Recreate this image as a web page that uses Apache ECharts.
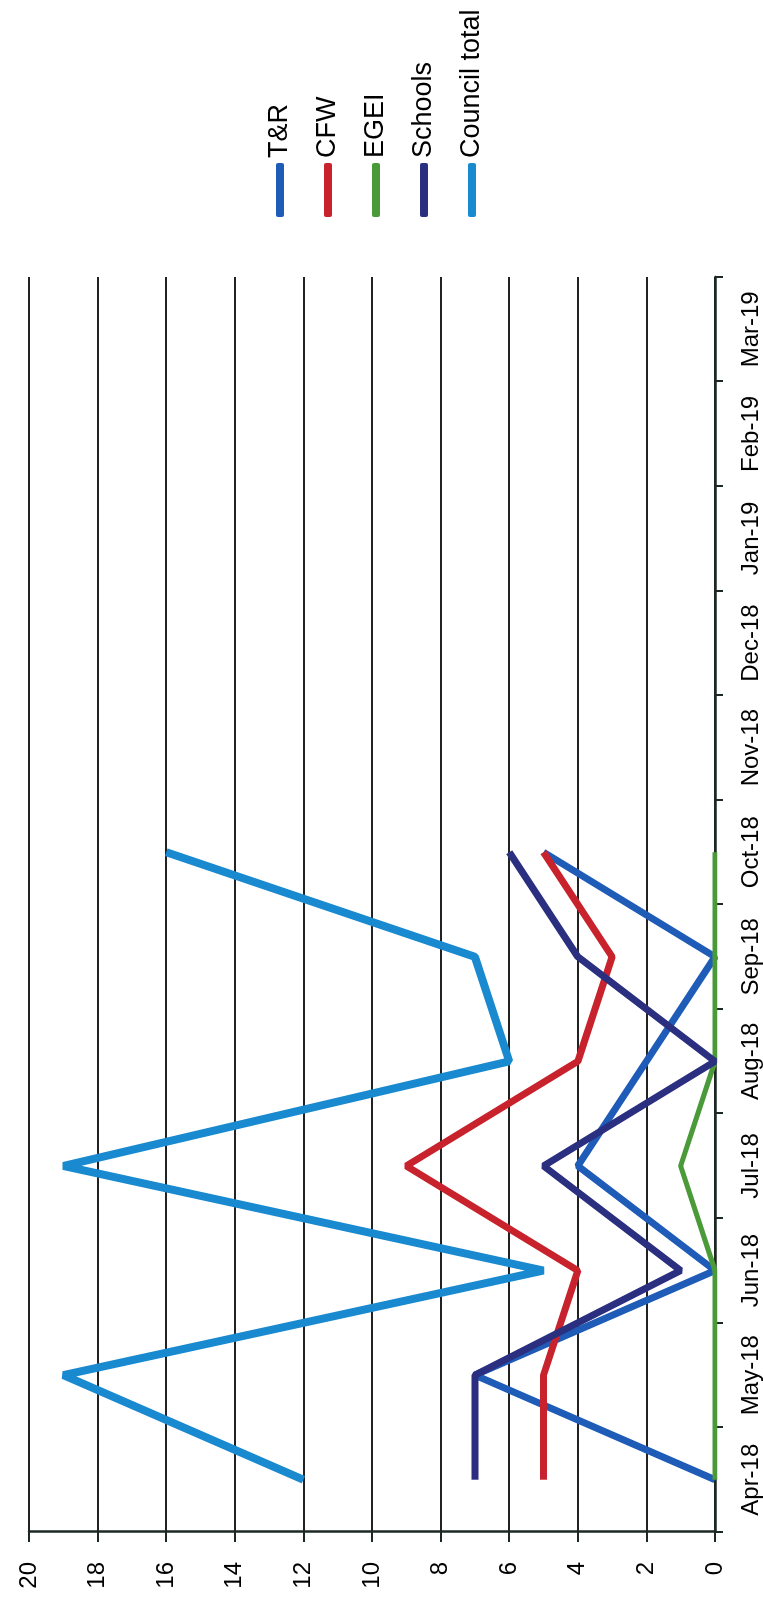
<!DOCTYPE html>
<html>
<head>
<meta charset="utf-8">
<script src="https://cdn.jsdelivr.net/npm/echarts@6/dist/echarts.min.js"></script>
<style>
  html, body { margin: 0; padding: 0; background: #fff; overflow: hidden; }
  #page { position: relative; width: 763px; height: 1601px; overflow: hidden; }
  /* the chart is drawn landscape and turned a quarter to the left, like the scan */
  #chart {
    position: absolute; left: 0; top: 0;
    width: 1601px; height: 763px;
    transform-origin: 0 0;
    transform: translateY(1601px) rotate(-90deg);
  }
</style>
</head>
<body>
<div id="page"><div id="chart"></div></div>
<script>
// months on the category axis
var months = ['Apr-18', 'May-18', 'Jun-18', 'Jul-18', 'Aug-18', 'Sep-18',
              'Oct-18', 'Nov-18', 'Dec-18', 'Jan-19', 'Feb-19', 'Mar-19'];
// values per service (no data after Oct-18)
var trData      = [0, 7, 0, 4, 2, 0, 5, null, null, null, null, null];
var cfwData     = [5, 5, 4, 9, 4, 3, 5, null, null, null, null, null];
var egeiData    = [0, 0, 0, 1, 0, 0, 0, null, null, null, null, null];
var schoolsData = [7, 7, 1, 5, 0, 4, 6, null, null, null, null, null];
var councilData = [12, 19, 5, 19, 6, 7, 16, null, null, null, null, null];
var valueTicks  = [0, 2, 4, 6, 8, 10, 12, 14, 16, 18, 20];

function mkSeries(name, data, color, width) {
	return {
		name: name,
		type: 'line',
		data: data,
		symbol: 'none',
		color: color,
		lineStyle: { color: color, width: width },
		animation: false
	};
}

function drawChart() {
	var chart = echarts.init(document.getElementById('chart'));
	var font = 'Liberation Sans, Arial, sans-serif';
	var axisDark = '#1b2824';
	var option = {
		backgroundColor: '#ffffff',
		animation: false,
		legend: {
			orient: 'vertical',
			left: 1379,
			top: 260,
			itemWidth: 54,
			itemHeight: 8,
			itemGap: 18,
			icon: 'roundRect',
			textStyle: { fontFamily: font, fontSize: 27, color: '#000', lineHeight: 30 },
			data: ['T&R', 'CFW', 'EGEI', 'Schools', 'Council total']
		},
		grid: { left: 69, top: 29, width: 1255, height: 686 },
		xAxis: {
			type: 'category',
			data: months,
			boundaryGap: true,
			axisLine: { lineStyle: { color: axisDark, width: 2.5 } },
			axisTick: { show: true, length: 8, inside: false, lineStyle: { color: axisDark, width: 2 } },
			axisLabel: { fontFamily: font, fontSize: 24, color: '#000', margin: 24, interval: 0 },
			splitLine: { show: false }
		},
		yAxis: {
			type: 'value',
			min: valueTicks[0],
			max: valueTicks[valueTicks.length - 1],
			interval: 2,
			axisLine: { show: true, lineStyle: { color: axisDark, width: 2.5 } },
			axisTick: { show: true, length: 10, inside: false, lineStyle: { color: axisDark, width: 2 } },
			axisLabel: { fontFamily: font, fontSize: 24, color: '#000', margin: 30 },
			splitLine: { show: true, lineStyle: { color: '#222', width: 2 } }
		},
		series: [
			mkSeries('T&R', trData, '#1f5cb8', 7),
			mkSeries('CFW', cfwData, '#c8232d', 7),
			mkSeries('EGEI', egeiData, '#4b9a3a', 5),
			mkSeries('Schools', schoolsData, '#2b2f80', 7),
			mkSeries('Council total', councilData, '#1a8ad0', 8)
		]
	};
	chart.setOption(option);
}

drawChart();
</script>
</body>
</html>
